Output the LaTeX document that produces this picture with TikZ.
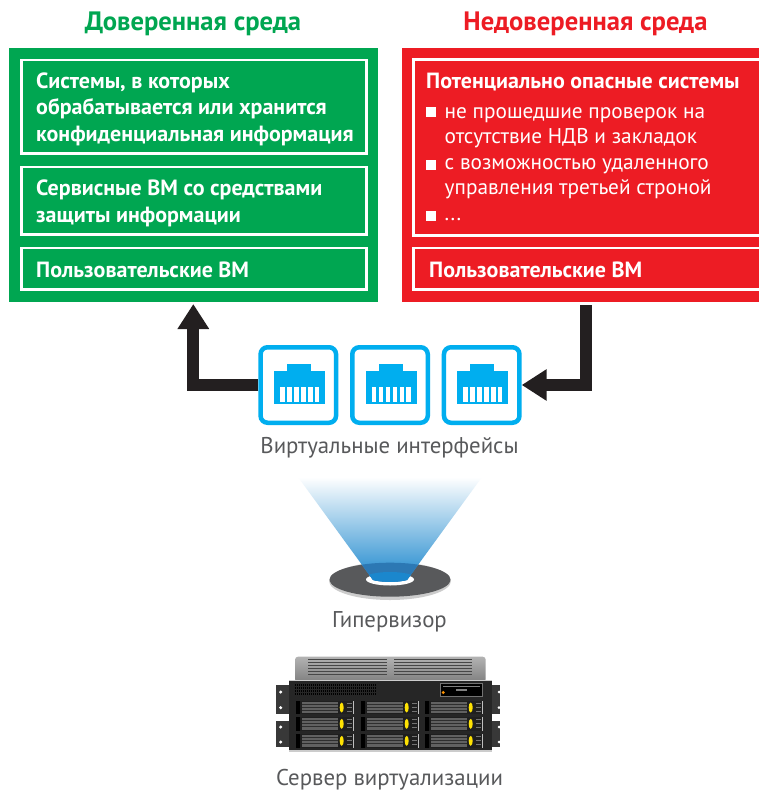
\documentclass[tikz,border=0pt]{standalone}
\usepackage{fontspec}
\setmainfont{PT Sans}
\usetikzlibrary{arrows.meta}
\definecolor{tgreen}{HTML}{00A651}
\definecolor{tred}{HTML}{ED1C24}
\definecolor{tblue}{HTML}{00AEEF}
\definecolor{tdark}{HTML}{231F20}
\definecolor{tgrey}{HTML}{58595B}
\definecolor{beamlow}{HTML}{1B87CD}
\definecolor{beammid}{HTML}{9CC9E8}
\definecolor{beamdisc}{HTML}{2C78B4}
\tikzset{
 x=1pt,y=-1pt,
 panel/.style={draw=white,line width=2.6pt},
 head/.style={anchor=base,font=\bfseries\fontsize{26.6}{26.6}\selectfont},
 wb/.style={anchor=base west,text=white,font=\bfseries\fontsize{22}{22}\selectfont,inner sep=0pt},
 wr/.style={anchor=base west,text=white,font=\fontsize{21.3}{21.3}\selectfont,inner sep=0pt},
 capt/.style={anchor=base,text=tgrey,font=\fontsize{22.8}{22.8}\selectfont,inner sep=0pt},
 link/.style={draw=tdark,line width=11.8pt},
 bigtip/.style={-{Triangle[length=25pt,width=30pt]}},
 iface/.style={draw=tblue,line width=4.5pt,rounded corners=7pt,fill=white,minimum size=75.5pt,inner sep=0pt},
}
\newcommand{\jack}[1]{%
 \begin{scope}[shift={(#1,0)}]
  \fill[tblue] (-24.5,371) rectangle (26.5,404);
  \fill[tblue] (-11.5,364) rectangle (12.5,372);
  \foreach \i in {-18.3,-11.3,-4.3,2.7,9.7,16.2}{\fill[white] (\i,386.7) rectangle ++(4.5,15);}
 \end{scope}}
\newcommand{\disk}[2]{%
 \begin{scope}[shift={(#1,#2)}]
  \fill[black!88] (0,0) rectangle (58,13.5);
  \fill[black] (0,0) rectangle (4,13.5);
  \fill[black!62] (5.5,1) rectangle (42,12.5);
  \foreach \r in {3,6,9}{\fill[black!82] (5.5,\r) rectangle (42,\r+1);}
  \fill[black!25] (57.2,0) rectangle (58,13.5);
  \fill[yellow!85!orange] (45.7,6.8) ellipse (2pt and 5pt);
  \foreach \r in {3,7,11}{\fill[black!55] (50.7,\r-1.2) rectangle (55.7,\r);}
 \end{scope}}
\begin{document}
\begin{tikzpicture}
\useasboundingbox (0,0) rectangle (759,791);
\fill[white] (0,0) rectangle (759,791);
% titles
\node[head,text=tgreen] (t1) at (193,31) {Доверенная среда};
\node[head,text=tred] (t2) at (585.5,31) {Недоверенная среда};
% green
\fill[tgreen] (9,48) rectangle (377.5,302);
\draw[panel] (21.3,60) rectangle (366.4,153.4);
\draw[panel] (21.3,167) rectangle (366.4,234.7);
\draw[panel] (21.3,248) rectangle (366.4,289.4);
\node[wb] (g1) at (36,88.7) {Системы, в которых};
\node[wb] (g2) at (36,115) {обрабатывается или хранится};
\node[wb] (g3) at (36,141.5) {конфиденциальная информация};
\node[wb] (g4) at (36,195.7) {Сервисные ВМ со средствами};
\node[wb] (g5) at (36,222.7) {защиты информации};
\node[wb] (g6) at (36,277) {Пользовательские ВМ};
% red
\fill[tred] (402,48) rectangle (759,302);
\draw[panel] (760,59.3) -- (413.6,59.3) -- (413.6,235.7) -- (760,235.7);
\draw[panel] (760,248) -- (413.6,248) -- (413.6,289.7) -- (760,289.7);
\node[wb] (r1) at (426,88.7) {Потенциально опасные системы};
\node[wr] (r2) at (444.5,118.3) {не прошедшие проверок на};
\node[wr] (r3) at (444.5,144) {отсутствие НДВ и закладок};
\node[wr] (r4) at (444.5,169.5) {с возможностью удаленного};
\node[wr] (r5) at (444.5,195) {управления третьей строной};
\node[wr] (r6) at (444.5,221) {...};
\foreach \yy in {112.5,165.3,216}{\fill[white] (426,\yy-5) rectangle ++(10,10);}
\node[wb] (r7) at (429,277) {Пользовательские ВМ};
% interfaces
\node[iface] (if1) at (298.3,385) {};
\node[iface] (if2) at (390,385) {};
\node[iface] (if3) at (481.7,385) {};
\jack{298.3}\jack{390}\jack{481.7}
% arrows
\coordinate (gin) at (193.3,304);
\coordinate (rout) at (586,305);
\draw[link,bigtip] (if1.west) -| (gin);
\draw[link,bigtip] (rout) |- (if3.east);
\node[capt] (c1) at (389.5,453.4) {Виртуальные интерфейсы};
% hypervisor
\fill[black!20] (390,581) ellipse (61pt and 19pt);
\fill[tgrey] (390,579.7) ellipse (60.5pt and 17pt);
\fill[white] (390,579.5) ellipse (24pt and 6pt);
\shade[top color=white,middle color=beammid,bottom color=beamlow] (298,477) -- (482,477) -- (407,580) .. controls (398,582.5) and (382,582.5) .. (373,580) -- cycle;
\begin{scope}
 \clip (298,477) -- (482,477) -- (407,580) .. controls (398,582.5) and (382,582.5) .. (373,580) -- cycle;
 \fill[beamdisc] (390,579.7) ellipse (60.5pt and 17pt);
 \fill[beamlow] (390,581) ellipse (30pt and 9pt);
\end{scope}
\node[capt] (c2) at (389.5,627) {Гипервизор};
% server
\shade[top color=black!30,bottom color=black!50,rounded corners=3pt] (295,656.7) rectangle (485.7,682);
\foreach \yy in {659,662,665,668,671,674}{\fill[black!72] (308,\yy) rectangle (386.6,\yy+1.3);\fill[black!72] (394,\yy) rectangle (472,\yy+1.3);}
\fill[black!78] (276,685) rectangle (290,714);
\fill[black!78] (276,721) rectangle (290,747);
\fill[black!78] (492,685) rectangle (500,714);
\fill[black!78] (492,721) rectangle (500,747);
\foreach \yy in {692,707.7,727,742}{\fill[white] (280.7,\yy) circle (1.7pt);\fill[white] (499,\yy) circle (1.5pt);}
\fill[black!85] (289.3,681) rectangle (491.7,751);
\fill[black!20] (289.3,679.6) rectangle (491.7,681);
\fill[black!20] (289.3,750.4) rectangle (491.7,751.7);
\foreach \r in {684,687,690,693}{\foreach \i in {0,...,40}{\fill[black] (295+\i*2,\r) rectangle ++(1.3,2);}}
\fill[black!55] (440,683) rectangle (482.7,696.7);
\fill[black] (441,684) rectangle (481.7,695.7);
\fill[black!50] (443,685.5) rectangle (480,687);
\fill[black!50] (456,689) rectangle (467,691);
\fill[orange!85!yellow] (443.3,692.5) circle (1.6pt);
\foreach \xx in {296,361,425}{\foreach \yy in {700.7,717,734}{\disk{\xx}{\yy}}}
\node[capt] (c3) at (389.5,785) {Сервер виртуализации};
\end{tikzpicture}
\end{document}
